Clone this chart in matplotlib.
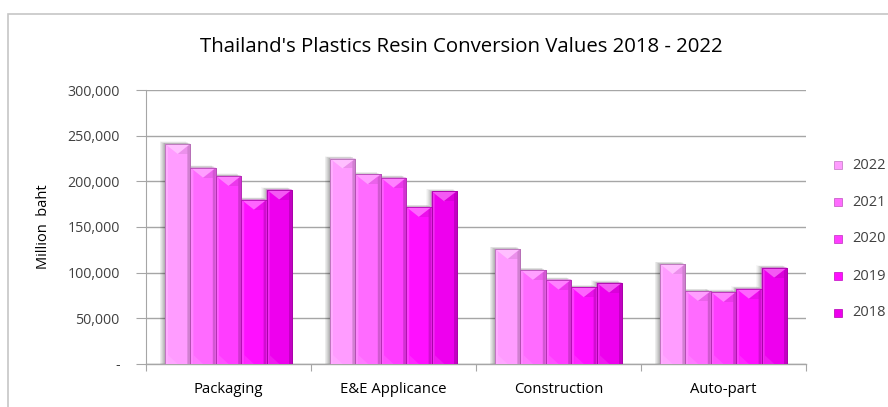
import matplotlib
matplotlib.use("Agg")
import matplotlib.pyplot as plt
from matplotlib.patches import Polygon, Rectangle
from matplotlib.ticker import FixedLocator, FuncFormatter
import matplotlib.colors as mcolors
import numpy as np

plt.rcParams['font.family'] = ['Open Sans', 'DejaVu Sans']

# Conversion values, million baht
categories = ["Packaging", "E&E Applicance", "Construction", "Auto-part"]
years = ["2022", "2021", "2020", "2019", "2018"]
values = {
    "2022": [241000, 225000, 126000, 109500],
    "2021": [215000, 207500, 103000, 80000],
    "2020": [206000, 204000, 92500, 79000],
    "2019": [180000, 172000, 84000, 82500],
    "2018": [191000, 189000, 89000, 105500],
}
yticks = [0, 50000, 100000, 150000, 200000, 250000, 300000]
colors = {
    "2022": "#FF9CFF",
    "2021": "#FF6BFF",
    "2020": "#FF3DFF",
    "2019": "#FF10FF",
    "2018": "#EE00EE",
}

W, H, DPI = 888, 407, 100
fig = plt.figure(figsize=(W / DPI, H / DPI), dpi=DPI)
fig.patch.set_facecolor("white")

# outer chart frame
fig.patches.append(Rectangle((8 / W, -0.05), 1.0, (H - 14) / H + 0.05,
                             transform=fig.transFigure, fill=False,
                             edgecolor="#C6C6C6", linewidth=1.2))

ax = fig.add_axes([146 / W, (H - 364) / H, 660 / W, 274 / H])
ax.set_xlim(0, 4)
ax.set_ylim(0, 300000)

# pixel -> data conversions for bevel and shadow decorations
px_x = 4 / 660.0
px_y = 300000 / 274.0

n = len(years)
group_w = 0.77
bar_w = group_w / n


def shade(c, f):
    r, g, b = mcolors.to_rgb(c)
    if f >= 0:
        return (r + (1 - r) * f, g + (1 - g) * f, b + (1 - b) * f)
    f = -f
    return (r * (1 - f), g * (1 - f), b * (1 - f))


cx = np.arange(len(categories)) + 0.5

# soft drop shadow behind each group
for ci in range(len(categories)):
    left = cx[ci] - group_w / 2
    tops = [values[y][ci] for y in years]
    for k, a in zip(range(6, 0, -1), [0.03, 0.04, 0.05, 0.06, 0.07, 0.08]):
        for i, t in enumerate(tops):
            x0 = left + i * bar_w
            ax.add_patch(Rectangle((x0 - k * px_x * 0.9, 0), bar_w + k * px_x * 0.2,
                                   t + k * px_y * 0.4, facecolor="black",
                                   edgecolor="none", alpha=a, zorder=2))

for i, y in enumerate(years):
    xs = cx - group_w / 2 + (i + 0.5) * bar_w
    ax.bar(xs, values[y], width=bar_w, color=colors[y], edgecolor=shade(colors[y], -0.25),
           linewidth=0.6, zorder=3, label=y)
    for x, v in zip(xs, values[y]):
        l, r = x - bar_w / 2, x + bar_w / 2
        d = 10 * px_y
        e = 3 * px_x
        # top pyramid facet
        ax.add_patch(Polygon([(l, v), (r, v), (x, v - d)], closed=True,
                             facecolor=shade(colors[y], 0.35), edgecolor="none", zorder=4))
        ax.add_patch(Polygon([(r, v), (r, v - d), (x, v - d)], closed=True,
                             facecolor=shade(colors[y], -0.08), edgecolor="none", zorder=4))
        # left highlight and right shading strips
        ax.add_patch(Polygon([(l, v), (l + e, v - d * 0.3), (l + e, 0), (l, 0)], closed=True,
                             facecolor=shade(colors[y], 0.18), edgecolor="none", zorder=4))
        ax.add_patch(Polygon([(r, v), (r - e, v - d * 0.3), (r - e, 0), (r, 0)], closed=True,
                             facecolor=shade(colors[y], -0.18), edgecolor="none", zorder=4))
        # lower corner facet
        ax.add_patch(Polygon([(l + e, 0), (l + e, d * 0.9), (x, 0)], closed=True,
                             facecolor=shade(colors[y], 0.10), edgecolor="none", zorder=4))
        ax.add_patch(Rectangle((l, 0), bar_w, v, fill=False,
                               edgecolor=shade(colors[y], -0.3), linewidth=0.6, zorder=5))

# grid and axes styling
ax.yaxis.set_major_locator(FixedLocator(yticks))
ax.yaxis.set_major_formatter(FuncFormatter(lambda v, p: "-" if v == 0 else f"{int(v):,}"))
ax.grid(axis="y", color="#A6A6A6", linewidth=1.0, zorder=0)
ax.set_axisbelow(True)
for s in ["top", "right"]:
    ax.spines[s].set_visible(False)
ax.spines["left"].set_color("#A6A6A6")
ax.spines["bottom"].set_color("#A6A6A6")
ax.spines["bottom"].set_linewidth(1.0)
ax.tick_params(axis="y", length=7, color="#A6A6A6", labelsize=10.2, labelcolor="#404040", pad=12)

ax.set_xticks([0, 1, 2, 3, 4])
ax.set_xticklabels([])
ax.set_xticks(cx, minor=True)
ax.set_xticklabels(categories, minor=True, fontsize=10.7)
ax.tick_params(axis="x", which="major", length=5, color="#A6A6A6", direction="out")
ax.tick_params(axis="x", which="minor", length=0, pad=13, labelcolor="#000000")

ax.set_ylabel("Million  baht", fontsize=10.5, labelpad=0)
ax.yaxis.set_label_coords((51 - 146) / 660, 0.5)

fig.text(461 / W, 1 - 47 / H, "Thailand's Plastics Resin Conversion Values 2018 - 2022",
         ha="center", va="center", fontsize=14.7, color="#000000")

# legend
leg_y = [165, 202, 239, 276, 313]
for y, py in zip(years, leg_y):
    fy = 1 - py / H
    fig.patches.append(Rectangle((834 / W, fy - 4 / H), 8 / W, 8 / H,
                                 transform=fig.transFigure, facecolor=colors[y],
                                 edgecolor=shade(colors[y], -0.25), linewidth=0.5))
    fig.text(852 / W, fy, y, ha="left", va="center", fontsize=10.5, color="#404040")

fig.savefig("out.png", dpi=DPI, facecolor="white")
